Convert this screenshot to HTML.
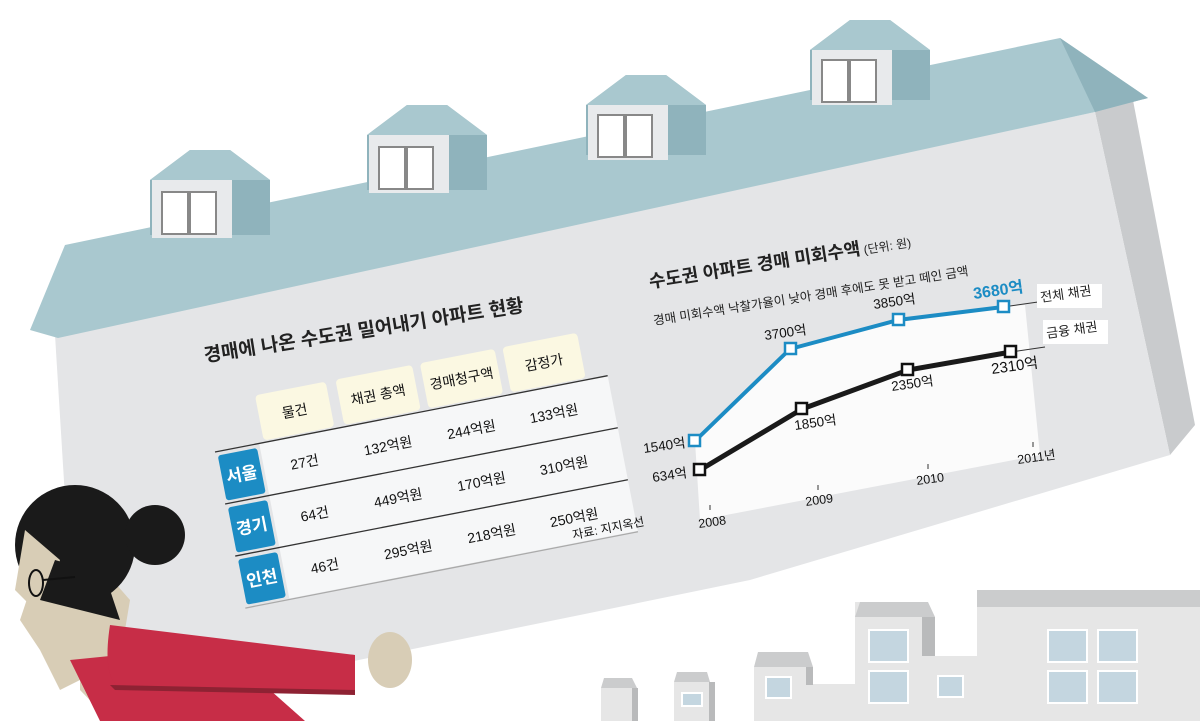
<!DOCTYPE html>
<html><head><meta charset="utf-8"><style>
html,body{margin:0;padding:0;background:#fff;}
svg{display:block;font-family:"Liberation Sans","Noto Sans CJK KR",sans-serif;}
</style></head><body>
<svg width="1200" height="721" viewBox="0 0 1200 721" xmlns="http://www.w3.org/2000/svg">
<rect width="1200" height="721" fill="#fff"/>
<g>
<rect x="977" y="590" width="223" height="131" fill="#e6e6e6"/><rect x="977" y="590" width="223" height="17" fill="#cbcccd"/>
<rect x="922" y="656" width="55" height="65" fill="#e6e6e6"/>
<rect x="855" y="602" width="67" height="119" fill="#e6e6e6"/><polygon points="855,617 860,602 928,602 935,617" fill="#cbcccd"/><rect x="922" y="617" width="13" height="39" fill="#b9babb"/>
<rect x="813" y="684" width="42" height="37" fill="#e6e6e6"/>
<rect x="754" y="667" width="59" height="54" fill="#e6e6e6"/><polygon points="754,667 758,652 808,652 813,667" fill="#cbcccd"/><rect x="806" y="667" width="7" height="18" fill="#b9babb"/>
<rect x="674" y="682" width="35" height="39" fill="#e6e6e6"/><polygon points="674,682 677,672 707,672 710,682" fill="#cbcccd"/><rect x="709" y="682" width="6" height="39" fill="#b9babb"/>
<rect x="601" y="688" width="31" height="33" fill="#e6e6e6"/><polygon points="601,688 604,678 632,678 637,688" fill="#cbcccd"/><rect x="632" y="688" width="6" height="33" fill="#b9babb"/>
<g fill="#c4d6e0" stroke="#fff" stroke-width="2">
<rect x="869" y="630" width="39" height="32"/><rect x="869" y="671" width="39" height="32"/>
<rect x="1098" y="630" width="39" height="32"/><rect x="1048" y="630" width="39" height="32"/>
<rect x="1098" y="671" width="39" height="32"/><rect x="1048" y="671" width="39" height="32"/>
<rect x="938" y="676" width="25" height="21"/><rect x="766" y="677" width="25" height="21"/><rect x="682" y="693" width="20" height="13"/>
</g>
</g>
<polygon points="1095,112 1132,95 1195,425 1170,455" fill="#c9cbcd"/>
<polygon points="55,335 1095,112 1170,455 750,580 580,615 300,672 75,660" fill="#e4e5e7"/>
<polygon points="30,330 65,245 1060,38 1148,98 1095,112 58,338" fill="#a9c8cf"/>
<polygon points="1060,38 1148,98 1095,112" fill="#8fb3bc"/>
<g>
<g transform="translate(150,150)"><polygon points="0,30 40,0 80,0 120,30 120,85 0,85" fill="#8fb3bc"/><polygon points="0,30 40,0 80,0 120,30" fill="#a9c8cf"/><rect x="2" y="30" width="80" height="58" fill="#e8eaec"/><rect x="12" y="42" width="26" height="42" fill="#fff" stroke="#888" stroke-width="2"/><rect x="40" y="42" width="26" height="42" fill="#fff" stroke="#888" stroke-width="2"/></g>
<g transform="translate(367,105)"><polygon points="0,30 40,0 80,0 120,30 120,85 0,85" fill="#8fb3bc"/><polygon points="0,30 40,0 80,0 120,30" fill="#a9c8cf"/><rect x="2" y="30" width="80" height="58" fill="#e8eaec"/><rect x="12" y="42" width="26" height="42" fill="#fff" stroke="#888" stroke-width="2"/><rect x="40" y="42" width="26" height="42" fill="#fff" stroke="#888" stroke-width="2"/></g>
<g transform="translate(586,75)"><polygon points="0,30 40,0 80,0 120,30 120,80 0,80" fill="#8fb3bc"/><polygon points="0,30 40,0 80,0 120,30" fill="#a9c8cf"/><rect x="2" y="30" width="80" height="55" fill="#e8eaec"/><rect x="12" y="40" width="26" height="42" fill="#fff" stroke="#888" stroke-width="2"/><rect x="40" y="40" width="26" height="42" fill="#fff" stroke="#888" stroke-width="2"/></g>
<g transform="translate(810,20)"><polygon points="0,30 40,0 80,0 120,30 120,80 0,80" fill="#8fb3bc"/><polygon points="0,30 40,0 80,0 120,30" fill="#a9c8cf"/><rect x="2" y="30" width="80" height="55" fill="#e8eaec"/><rect x="12" y="40" width="26" height="42" fill="#fff" stroke="#888" stroke-width="2"/><rect x="40" y="40" width="26" height="42" fill="#fff" stroke="#888" stroke-width="2"/></g>
</g>
<text x="205" y="362" font-size="19" font-weight="bold" fill="#222" transform="rotate(-9 205 362)">경매에 나온 수도권 밀어내기 아파트 현황</text>
<g transform="translate(215,452) rotate(-11)" font-size="14" fill="#111">
<g fill="#fbf8e2"><rect x="50" y="-48" width="72" height="46" rx="4"/><rect x="132" y="-48" width="78" height="46" rx="4"/><rect x="218" y="-48" width="76" height="46" rx="4"/><rect x="302" y="-48" width="76" height="46" rx="4"/></g>
<rect x="45" y="0" width="355" height="158" fill="#f6f7f8"/>
<g stroke="#333" stroke-width="1.3"><line x1="0" y1="0" x2="400" y2="0"/><line x1="0" y1="53" x2="400" y2="53"/><line x1="0" y1="106" x2="400" y2="106"/></g>
<line x1="0" y1="159" x2="400" y2="159" stroke="#aaa" stroke-width="1.3"/>
<g fill="#1c8cc4"><rect x="2" y="4" width="40" height="46" rx="3"/><rect x="2" y="57" width="40" height="46" rx="3"/><rect x="2" y="110" width="40" height="46" rx="3"/></g>
<g fill="#fff" font-size="17" font-weight="bold" text-anchor="middle"><text x="22" y="33">서울</text><text x="22" y="86">경기</text><text x="22" y="139">인천</text></g>
<g text-anchor="middle"><text x="86" y="-20">물건</text><text x="171" y="-20">채권 총액</text><text x="256" y="-20">경매청구액</text><text x="340" y="-20">감정가</text>
<text x="86" y="32">27건</text><text x="171" y="32">132억원</text><text x="256" y="32">244억원</text><text x="340" y="32">133억원</text>
<text x="86" y="85">64건</text><text x="171" y="85">449억원</text><text x="256" y="85">170억원</text><text x="340" y="85">310억원</text>
<text x="86" y="138">46건</text><text x="171" y="138">295억원</text><text x="256" y="138">218억원</text><text x="340" y="138">250억원</text></g>
<text x="408" y="154" font-size="12" text-anchor="end">자료: 지지옥선</text>
</g>
<polygon points="695,441 790,349 898,320 1003,307 1025,305 1040,455 700,520" fill="#fbfbfb"/>
<text x="650" y="288" font-size="18" font-weight="bold" fill="#222" transform="rotate(-9 650 288)">수도권 아파트 경매 미회수액<tspan font-size="12" font-weight="normal"> (단위: 원)</tspan></text>
<text x="654" y="325" font-size="12.5" fill="#222" transform="rotate(-9 654 325)">경매 미회수액   낙찰가율이 낮아 경매 후에도 못 받고 떼인 금액</text>
<g stroke="#333" stroke-width="1"><line x1="1003" y1="307" x2="1038" y2="302"/><line x1="1011" y1="352" x2="1045" y2="347"/>
<line x1="710" y1="505" x2="710" y2="510"/><line x1="818" y1="485" x2="818" y2="490"/><line x1="928" y1="464" x2="928" y2="469"/><line x1="1033" y1="442" x2="1033" y2="447"/></g>
<rect x="1037" y="284" width="65" height="24" fill="#fff"/><rect x="1043" y="320" width="65" height="24" fill="#fff"/>
<g font-size="13" fill="#222"><text x="1041" y="302" transform="rotate(-8 1041 302)">전체 채권</text><text x="1047" y="338" transform="rotate(-8 1047 338)">금융 채권</text></g>
<polyline points="695,441 790,349 898,320 1003,307" fill="none" stroke="#1c8cc4" stroke-width="4"/>
<polyline points="700,470 802,409 908,370 1011,352" fill="none" stroke="#1a1a1a" stroke-width="5"/>
<g fill="#fff" stroke="#1c8cc4" stroke-width="2.5"><rect x="689" y="435" width="11" height="11"/><rect x="785" y="343" width="11" height="11"/><rect x="893" y="314" width="11" height="11"/><rect x="998" y="301" width="11" height="11"/></g>
<g fill="#fff" stroke="#111" stroke-width="2.5"><rect x="694" y="464" width="11" height="11"/><rect x="796" y="403" width="11" height="11"/><rect x="902" y="364" width="11" height="11"/><rect x="1005" y="346" width="11" height="11"/></g>
<g font-size="13.5" fill="#111">
<text x="644" y="453" transform="rotate(-8 644 453)">1540억</text><text x="653" y="482" transform="rotate(-8 653 482)">634억</text>
<text x="765" y="340" transform="rotate(-8 765 340)">3700억</text><text x="874" y="309" transform="rotate(-8 874 309)">3850억</text>
<text x="974" y="299" font-size="16" font-weight="bold" fill="#1c8cc4" transform="rotate(-8 974 299)">3680억</text>
<text x="795" y="430" transform="rotate(-8 795 430)">1850억</text><text x="892" y="391" transform="rotate(-8 892 391)">2350억</text>
<text x="992" y="374" font-size="15" transform="rotate(-8 992 374)">2310억</text>
<g font-size="12.5"><text x="699" y="528" transform="rotate(-8 699 528)">2008</text><text x="806" y="506" transform="rotate(-8 806 506)">2009</text><text x="917" y="485" transform="rotate(-8 917 485)">2010</text><text x="1018" y="464" transform="rotate(-8 1018 464)">2011년</text></g>
</g>
<polygon points="40,560 95,560 130,600 120,660 60,690 40,650 20,620" fill="#d8cdb6"/>
<polygon points="80,660 150,700 160,721 110,721 80,690" fill="#d8cdb6"/>
<ellipse cx="390" cy="660" rx="22" ry="28" fill="#d8cdb6"/>
<polygon points="70,660 120,655 140,640 355,655 355,690 270,690 305,721 100,721" fill="#c72d47"/>
<path d="M110,625 Q100,690 130,690 L355,693 L355,655 Z" fill="#c72d47"/>
<path d="M110,685 L355,690 L355,695 L115,690 Z" fill="#8e2233"/>
<ellipse cx="75" cy="545" rx="60" ry="60" fill="#1a1a1a"/>
<circle cx="155" cy="535" r="30" fill="#1a1a1a"/>
<polygon points="25,530 15,590 35,610 50,600 60,560" fill="#d8cdb6"/>
<polygon points="40,600 55,560 90,570 110,590 120,620 100,615" fill="#1a1a1a"/>
<ellipse cx="36" cy="583" rx="7" ry="13" fill="none" stroke="#111" stroke-width="2"/>
<line x1="43" y1="580" x2="75" y2="577" stroke="#111" stroke-width="2"/>
</svg>
</body></html>
